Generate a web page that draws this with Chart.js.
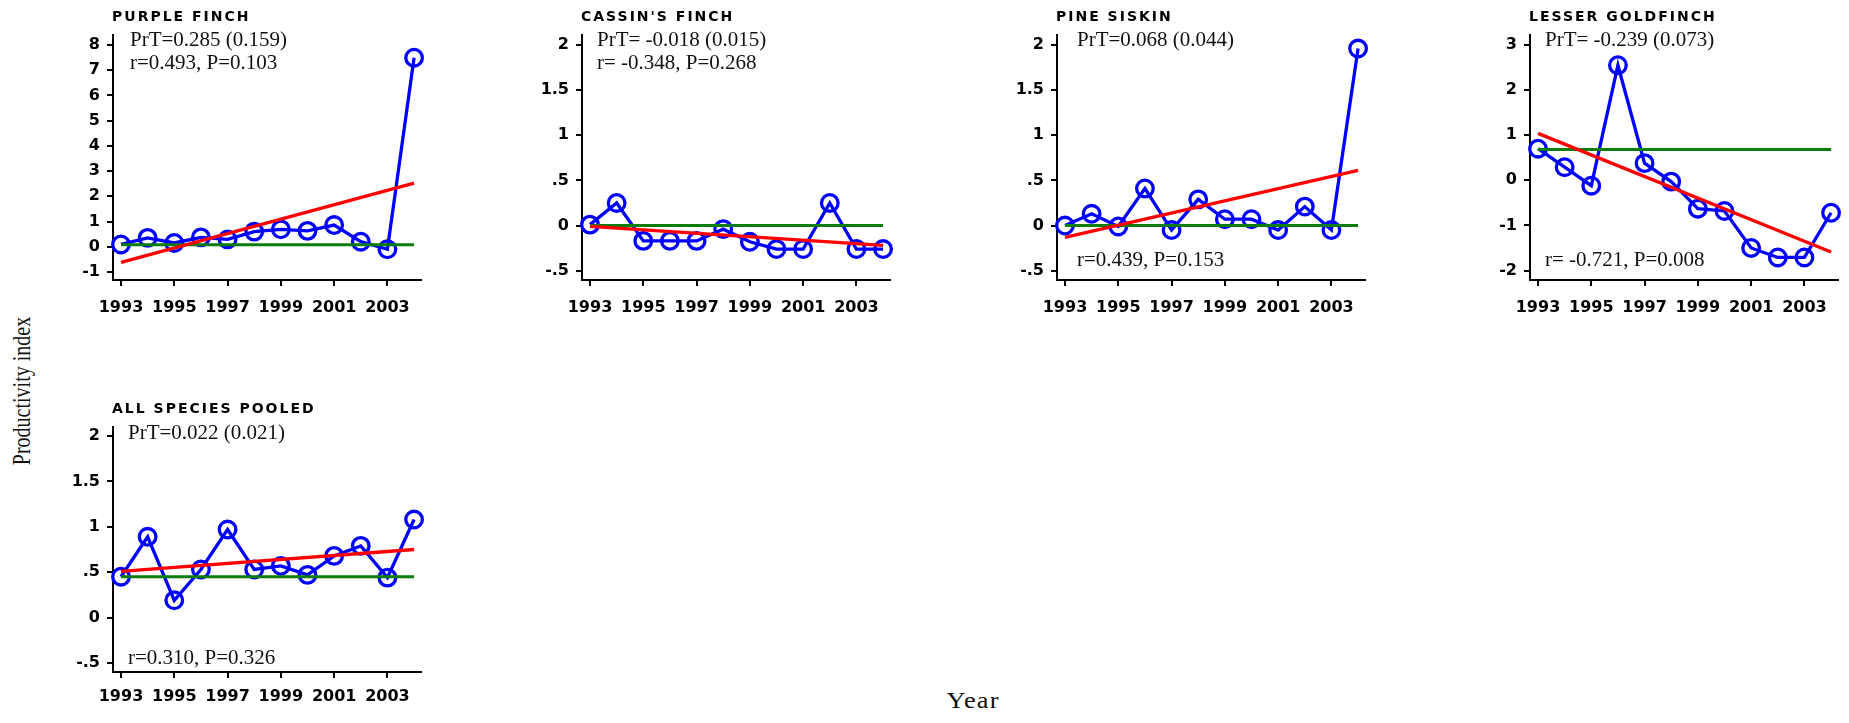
<!DOCTYPE html>
<html>
<head>
<meta charset="utf-8">
<script src="https://cdn.jsdelivr.net/npm/chart.js@4.4.0/dist/chart.umd.min.js"></script>
<style>
  body { margin: 0; background: #fff; width: 1849px; height: 723px; position: relative; overflow: hidden; }
  canvas { position: absolute; }
  .lbl { position: absolute; font-family: "Liberation Serif", "Times New Roman", serif; color: #111; white-space: nowrap; }
  #ylab { left: 22px; top: 391px; font-size: 20px; transform: translate(-50%, -50%) rotate(-90deg) scaleY(1.25); }
  #xlab { left: 973px; top: 700px; font-size: 24px; letter-spacing: 1px; transform: translate(-50%, -50%) scaleX(1.1); }
</style>
</head>
<body>
<div class="lbl" id="ylab">Productivity index</div>
<div class="lbl" id="xlab">Year</div>
<canvas id="g1" width="381" height="320" style="left:60px;top:0px"></canvas>
<canvas id="g2" width="381" height="320" style="left:529px;top:0px"></canvas>
<canvas id="g3" width="381" height="320" style="left:1004px;top:0px"></canvas>
<canvas id="g4" width="381" height="320" style="left:1477px;top:0px"></canvas>
<canvas id="g5" width="381" height="320" style="left:60px;top:392px"></canvas>
<script>
// ===== dados =====
const anos = [1993, 1994, 1995, 1996, 1997, 1998, 1999, 2000, 2001, 2002, 2003, 2004];

const purpleFinch     = [0.09, 0.35, 0.15, 0.37, 0.29, 0.60, 0.69, 0.63, 0.86, 0.20, -0.10, 7.50];
const cassinsFinch    = [0.01, 0.25, -0.17, -0.17, -0.17, -0.04, -0.18, -0.26, -0.26, 0.25, -0.26, -0.26];
const pineSiskin      = [0.00, 0.13, -0.01, 0.41, -0.05, 0.29, 0.07, 0.07, -0.05, 0.21, -0.05, 1.96];
const lesserGoldfinch = [0.70, 0.29, -0.12, 2.55, 0.38, -0.03, -0.63, -0.68, -1.50, -1.71, -1.71, -0.72];
const allPooled       = [0.45, 0.89, 0.19, 0.53, 0.97, 0.53, 0.57, 0.47, 0.68, 0.79, 0.44, 1.08];

// linha de tendência (vermelha) e linha base (verde), nos extremos 1993 e 2004
const anosExtremos  = [1993, 2004];
const purpleTrend   = [-0.62, 2.52];
const cassinsTrend  = [-0.01, -0.22];
const pineTrend     = [-0.13, 0.61];
const lesserTrend   = [1.04, -1.59];
const pooledTrend   = [0.51, 0.75];

const purpleBase  = [0.08, 0.08];
const cassinsBase = [0.00, 0.00];
const pineBase    = [0.00, 0.00];
const lesserBase  = [0.68, 0.68];
const pooledBase  = [0.45, 0.45];

// ticks
const xTicks      = [1993, 1995, 1997, 1999, 2001, 2003];
const ticksPurple = [-1, 0, 1, 2, 3, 4, 5, 6, 7, 8];
const ticksMeio   = [-0.5, 0, 0.5, 1, 1.5, 2];
const ticksLesser = [-2, -1, 0, 1, 2, 3];

// ===== desenho =====
const tickFont = { family: 'DejaVu Sans', size: 16, weight: 'bold' };

// escreve titulo e textos PrT / r dentro do painel
const textosPlugin = {
  id: 'textos',
  afterDraw(chart) {
    const cfg = chart.options.plugins.textos;
    const a = chart.chartArea;
    const ctx = chart.ctx;
    ctx.save();
    ctx.fillStyle = '#000';
    ctx.textBaseline = 'middle';
    ctx.textAlign = 'left';
    ctx.font = 'bold 14px "DejaVu Sans"';
    ctx.letterSpacing = '2px';
    ctx.fillText(cfg.titulo, a.left - 1, a.top - 18);
    ctx.letterSpacing = '0px';
    ctx.fillStyle = '#111';
    ctx.font = '21px "Liberation Serif"';
    cfg.notas.forEach(n => {
      const y = n.de === 'top' ? a.top + n.dy : a.bottom - n.dy;
      ctx.fillText(n.texto, a.left + n.dx, y);
    });
    ctx.restore();
  }
};

function pontos(xs, ys) {
  return xs.map((x, i) => ({ x: x, y: ys[i] }));
}

function montarPainel(idCanvas, titulo, valores, tendencia, base, yTicks, yMin, yMax, notas, padX) {
  const ctx = document.getElementById(idCanvas);
  new Chart(ctx, {
    type: 'line',
    data: {
      datasets: [
        {
          data: pontos(anosExtremos, tendencia),
          borderColor: '#ff0000',
          borderWidth: 3.3,
          pointRadius: 0
        },
        {
          data: pontos(anosExtremos, base),
          borderColor: '#0a7d0a',
          borderWidth: 3,
          pointRadius: 0
        },
        {
          data: pontos(anos, valores),
          borderColor: '#0000ff',
          borderWidth: 3.3,
          pointRadius: 8.3,
          pointBorderWidth: 3.3,
          pointBorderColor: '#0000ff',
          pointBackgroundColor: 'rgba(0,0,0,0)',
          clip: false
        }
      ]
    },
    options: {
      responsive: false,
      animation: false,
      layout: { padding: { top: 35, right: 20, left: 0, bottom: 0 } },
      plugins: {
        legend: { display: false },
        tooltip: { enabled: false },
        textos: { titulo: titulo, notas: notas }
      },
      scales: {
        x: {
          type: 'linear',
          min: 1992.7,
          max: 2004.26,
          afterBuildTicks: s => { s.ticks = xTicks.map(v => ({ value: v })); },
          afterFit: s => { s.height = 40; },
          ticks: { color: '#000', font: tickFont, padding: padX, autoSkip: false, maxRotation: 0, callback: v => String(v) },
          grid: { drawOnChartArea: false, drawTicks: true, tickLength: 6, color: '#000', lineWidth: 2 },
          border: { display: true, color: '#000', width: 2 }
        },
        y: {
          min: yMin,
          max: yMax,
          afterBuildTicks: s => { s.ticks = yTicks.map(v => ({ value: v })); },
          afterFit: s => { s.width = 53; },
          ticks: { color: '#000', font: tickFont, padding: 7, autoSkip: false, callback: v => String(v).replace('0.', '.') },
          grid: { drawOnChartArea: false, drawTicks: true, tickLength: 6, color: '#000', lineWidth: 2 },
          border: { display: true, color: '#000', width: 2 }
        }
      }
    },
    plugins: [textosPlugin]
  });
}

montarPainel('g1', 'PURPLE FINCH', purpleFinch, purpleTrend, purpleBase, ticksPurple, -1.32, 8.4, [
  { texto: 'PrT=0.285 (0.159)', dx: 17, dy: 5, de: 'top' },
  { texto: 'r=0.493, P=0.103', dx: 17, dy: 28, de: 'top' }
], 12);
montarPainel('g2', "CASSIN'S FINCH", cassinsFinch, cassinsTrend, cassinsBase, ticksMeio, -0.603, 2.11, [
  { texto: 'PrT= -0.018 (0.015)', dx: 15, dy: 5, de: 'top' },
  { texto: 'r= -0.348, P=0.268', dx: 15, dy: 28, de: 'top' }
], 12);
montarPainel('g3', 'PINE SISKIN', pineSiskin, pineTrend, pineBase, ticksMeio, -0.603, 2.11, [
  { texto: 'PrT=0.068 (0.044)', dx: 20, dy: 5, de: 'top' },
  { texto: 'r=0.439, P=0.153', dx: 20, dy: 20, de: 'bottom' }
], 12);
montarPainel('g4', 'LESSER GOLDFINCH', lesserGoldfinch, lesserTrend, lesserBase, ticksLesser, -2.21, 3.22, [
  { texto: 'PrT= -0.239 (0.073)', dx: 15, dy: 5, de: 'top' },
  { texto: 'r= -0.721, P=0.008', dx: 15, dy: 20, de: 'bottom' }
], 12);
montarPainel('g5', 'ALL SPECIES POOLED', allPooled, pooledTrend, pooledBase, ticksMeio, -0.6, 2.1, [
  { texto: 'PrT=0.022 (0.021)', dx: 15, dy: 6, de: 'top' },
  { texto: 'r=0.310, P=0.326', dx: 15, dy: 14, de: 'bottom' }
], 9);
</script>
</body>
</html>
